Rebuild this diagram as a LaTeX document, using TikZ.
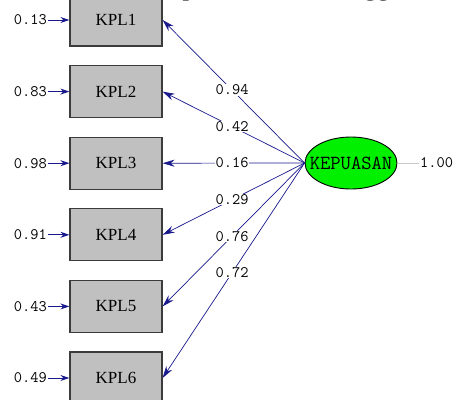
\documentclass[tikz,border=0pt]{standalone}
\usepackage{fontspec}
\setmainfont{Liberation Serif}
\usetikzlibrary{arrows.meta,shapes.geometric}
\definecolor{navyline}{RGB}{25,25,140}
\definecolor{boxfill}{RGB}{192,192,192}
\definecolor{boxedge}{RGB}{60,60,60}
\definecolor{latfill}{RGB}{0,240,0}
\definecolor{grayline}{RGB}{200,200,200}
\begin{document}
\begin{tikzpicture}[x=1pt,y=1pt,
  obsbox/.style={draw=boxedge,fill=boxfill,line width=1.2pt,minimum width=92pt,minimum height=52pt,inner sep=0pt,font=\fontsize{17}{17}\selectfont},
  latnode/.style={ellipse,draw=black,line width=0.9pt,fill=latfill,minimum width=92pt,minimum height=52pt,inner xsep=-9.5pt,inner ysep=0pt,font=\ttfamily\fontsize{20}{20}\selectfont},
  numlbl/.style={font=\ttfamily\fontsize{16}{16}\selectfont,inner sep=1pt},
  pathlbl/.style={numlbl,fill=white,inner sep=0.5pt},
  loadarrow/.style={draw=navyline,line width=0.7pt,-{Stealth[length=12pt,width=7pt]}},
  errarrow/.style={draw=navyline,line width=1pt,-{Stealth[length=9pt,width=6pt]}},
  titlefrag/.style={font=\fontsize{26}{26}\selectfont,inner sep=0pt,anchor=base}]
\useasboundingbox (0,0) rectangle (454,-399);
\clip (0,0) rectangle (454,-399);
\fill[white] (0,0) rectangle (454,-399);
% title fragments cut off at top edge
\node[titlefrag] (tp) at (189,4.2) {p};
\node[titlefrag] (tg) at (377,4.2) {gg};
% observed variables
\node[obsbox] (k1) at (116,-20) {KPL1};
\node[obsbox] (k2) at (116,-91.6) {KPL2};
\node[obsbox] (k3) at (116,-163.2) {KPL3};
\node[obsbox] (k4) at (116,-234.8) {KPL4};
\node[obsbox] (k5) at (116,-306.4) {KPL5};
\node[obsbox] (k6) at (116,-378) {KPL6};
% latent
\node[latnode] (kep) at (351,-163) {KEPUASAN};
% error variances
\node[numlbl,anchor=east] (e1) at (48,-20) {0.13};
\node[numlbl,anchor=east] (e2) at (48,-91.6) {0.83};
\node[numlbl,anchor=east] (e3) at (48,-163.2) {0.98};
\node[numlbl,anchor=east] (e4) at (48,-234.8) {0.91};
\node[numlbl,anchor=east] (e5) at (48,-306.4) {0.43};
\node[numlbl,anchor=east] (e6) at (48,-378) {0.49};
\foreach \i in {1,...,6}{\draw[errarrow] (e\i.east) -- (k\i.west);}
% loadings
\draw[loadarrow] (kep.west) -- node[pathlbl,pos=0.51]{0.94} (k1.east);
\draw[loadarrow] (kep.west) -- node[pathlbl,pos=0.51]{0.42} (k2.east);
\draw[loadarrow] (kep.west) -- node[pathlbl,pos=0.51]{0.16} (k3.east);
\draw[loadarrow] (kep.west) -- node[pathlbl,pos=0.51]{0.29} (k4.east);
\draw[loadarrow] (kep.west) -- node[pathlbl,pos=0.51]{0.76} (k5.east);
\draw[loadarrow] (kep.west) -- node[pathlbl,pos=0.51]{0.72} (k6.east);
% latent variance
\node[numlbl,anchor=west] (v) at (419,-163) {1.00};
\draw[grayline,line width=1pt] (kep.east) -- (v.west);
\end{tikzpicture}
\end{document}
